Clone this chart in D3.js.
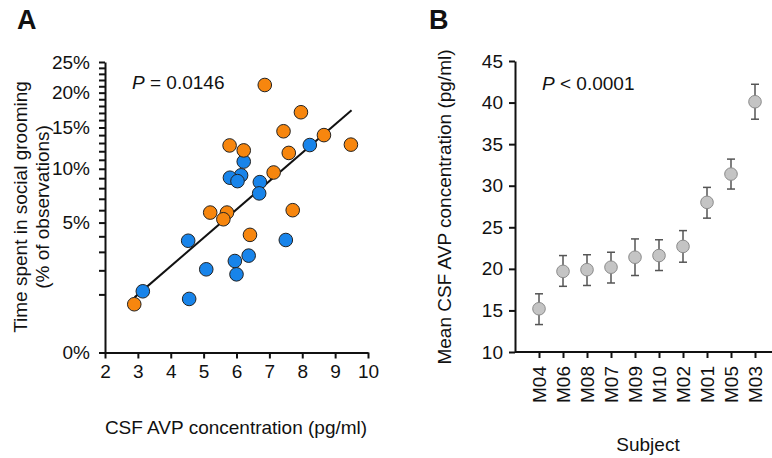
<!DOCTYPE html>
<html>
<head>
<meta charset="utf-8">
<script src="https://cdn.jsdelivr.net/npm/d3@7"></script>
<style>
  body { margin: 0; background: #fff; }
  text { font-family: "Liberation Sans", Arial, sans-serif; fill: #111; }
</style>
</head>
<body>
<script>
// panel A data: CSF AVP (pg/ml) vs % time grooming
var orangeX = [6.86, 7.96, 7.43, 8.66, 5.79, 6.22, 7.59, 9.48, 7.13, 5.20, 5.71, 5.60, 7.71, 6.41, 2.89]
var orangeY = [21.2, 17.1, 14.5, 14.0, 12.7, 12.1, 11.8, 12.8, 9.6, 5.8, 5.8, 5.26, 6.0, 4.1, 0.69]
var blueX = [6.22, 6.14, 5.80, 6.03, 6.71, 6.69, 8.23, 4.53, 7.50, 6.37, 5.95, 5.08, 6.00, 3.15, 4.56]
var blueY = [10.8, 9.3, 9.05, 8.7, 8.6, 7.5, 12.75, 3.7, 3.75, 2.78, 2.48, 2.05, 1.81, 1.11, 0.85]
var fitX = [2.9, 9.5]
var fitY = [0.9, 17.4]
var xTicksA = [2, 3, 4, 5, 6, 7, 8, 9, 10]
var yMajorA = [0, 5, 10, 15, 20, 25]

// panel B data
var subjects = ["M04", "M06", "M08", "M07", "M09", "M10", "M02", "M01", "M05", "M03"]
var means = [15.2, 19.7, 19.9, 20.2, 21.4, 21.6, 22.7, 28.0, 31.4, 40.1]
var upper = [17.0, 21.6, 21.7, 22.0, 23.6, 23.5, 24.6, 29.8, 33.2, 42.2]
var lower = [13.3, 17.9, 18.0, 18.3, 19.2, 19.8, 20.8, 26.1, 29.6, 38.0]
var yTicksB = [10, 15, 20, 25, 30, 35, 40, 45]

var svg = d3.select("body").append("svg").attr("width", 772).attr("height", 458)

var fs = 19

// ---------- panel A ----------
var xA = d3.scaleLinear().domain([2, 10]).range([105, 368])
var yA = d3.scaleSqrt().domain([0, 25]).range([352.5, 62])

var gA = svg.append("g")

gA.append("g").attr("transform", "translate(0,352.5)")
  .call(d3.axisBottom(xA).tickValues(xTicksA).tickSize(6).tickPadding(6).tickSizeOuter(0))
gA.append("g").attr("transform", "translate(105,0)")
  .call(d3.axisLeft(yA).tickValues(d3.range(0, 26)).tickSize(6).tickFormat(d => yMajorA.includes(d) ? d + "%" : "").tickPadding(9).tickSizeOuter(0))

gA.selectAll(".domain, .tick line").attr("stroke", "#111").attr("stroke-width", 2)
gA.selectAll(".tick text").attr("font-size", fs).attr("font-family", "Liberation Sans, Arial, sans-serif").attr("fill", "#111")

gA.append("line")
  .attr("x1", xA(fitX[0])).attr("y1", yA(fitY[0]))
  .attr("x2", xA(fitX[1])).attr("y2", yA(fitY[1]))
  .attr("stroke", "#111").attr("stroke-width", 2)

gA.selectAll("circle.bl").data(blueX).enter().append("circle")
  .attr("cx", d => xA(d)).attr("cy", (d, i) => yA(blueY[i])).attr("r", 6.8)
  .attr("fill", "#1884ea").attr("stroke", "#222").attr("stroke-width", 1)
gA.selectAll("circle.or").data(orangeX).enter().append("circle")
  .attr("cx", d => xA(d)).attr("cy", (d, i) => yA(orangeY[i])).attr("r", 6.8)
  .attr("fill", "#f7860e").attr("stroke", "#222").attr("stroke-width", 1)

var pA = gA.append("text").attr("x", 132).attr("y", 89).attr("font-size", fs)
pA.append("tspan").attr("font-style", "italic").text("P")
pA.append("tspan").text(" = 0.0146")

gA.append("text").attr("x", 236).attr("y", 434).attr("text-anchor", "middle").attr("font-size", fs)
  .text("CSF AVP concentration (pg/ml)")
gA.append("text").attr("transform", "translate(27,207) rotate(-90)").attr("text-anchor", "middle").attr("font-size", fs)
  .text("Time spent in social grooming")
gA.append("text").attr("transform", "translate(49,207) rotate(-90)").attr("text-anchor", "middle").attr("font-size", fs)
  .text("(% of observations)")

svg.append("text").attr("x", 17).attr("y", 29).attr("font-size", 27).attr("font-weight", "bold").text("A")

// ---------- panel B ----------
var xB = d3.scalePoint().domain(subjects).range([515, 779]).padding(1)
var yB = d3.scaleLinear().domain([10, 45]).range([352, 61])

var gB = svg.append("g")

gB.append("g").attr("transform", "translate(0,352)")
  .call(d3.axisBottom(xB).tickSize(6).tickSizeOuter(0))
  .call(g => g.select(".domain").attr("d", "M515,0H772"))
  .selectAll(".tick text")
  .attr("transform", "rotate(-90)").attr("text-anchor", "end")
  .attr("x", -14).attr("y", 0).attr("dy", "0.36em")
gB.append("g").attr("transform", "translate(515,0)")
  .call(d3.axisLeft(yB).tickValues(yTicksB).tickSize(6).tickPadding(6).tickSizeOuter(0))

gB.selectAll(".domain, .tick line").attr("stroke", "#111").attr("stroke-width", 2)
gB.selectAll(".tick text").attr("font-size", fs).attr("font-family", "Liberation Sans, Arial, sans-serif").attr("fill", "#111")

var err = gB.selectAll("g.err").data(subjects).enter().append("g")
err.append("line")
  .attr("x1", d => xB(d)).attr("x2", d => xB(d))
  .attr("y1", (d, i) => yB(upper[i])).attr("y2", (d, i) => yB(lower[i]))
err.append("line")
  .attr("x1", d => xB(d) - 4).attr("x2", d => xB(d) + 4)
  .attr("y1", (d, i) => yB(upper[i])).attr("y2", (d, i) => yB(upper[i]))
err.append("line")
  .attr("x1", d => xB(d) - 4).attr("x2", d => xB(d) + 4)
  .attr("y1", (d, i) => yB(lower[i])).attr("y2", (d, i) => yB(lower[i]))
err.selectAll("line").attr("stroke", "#555").attr("stroke-width", 1.5)

gB.selectAll("circle").data(subjects).enter().append("circle")
  .attr("cx", d => xB(d)).attr("cy", (d, i) => yB(means[i])).attr("r", 6.3)
  .attr("fill", "#c4c4c4").attr("stroke", "#8a8a8a").attr("stroke-width", 1)

var pB = gB.append("text").attr("x", 542).attr("y", 90).attr("font-size", fs)
pB.append("tspan").attr("font-style", "italic").text("P")
pB.append("tspan").text(" < 0.0001")

gB.append("text").attr("transform", "translate(451,207) rotate(-90)").attr("text-anchor", "middle").attr("font-size", fs)
  .text("Mean CSF AVP concentration (pg/ml)")
gB.append("text").attr("x", 648).attr("y", 451).attr("text-anchor", "middle").attr("font-size", fs)
  .text("Subject")

svg.append("text").attr("x", 429).attr("y", 29).attr("font-size", 27).attr("font-weight", "bold").text("B")
</script>
</body>
</html>
